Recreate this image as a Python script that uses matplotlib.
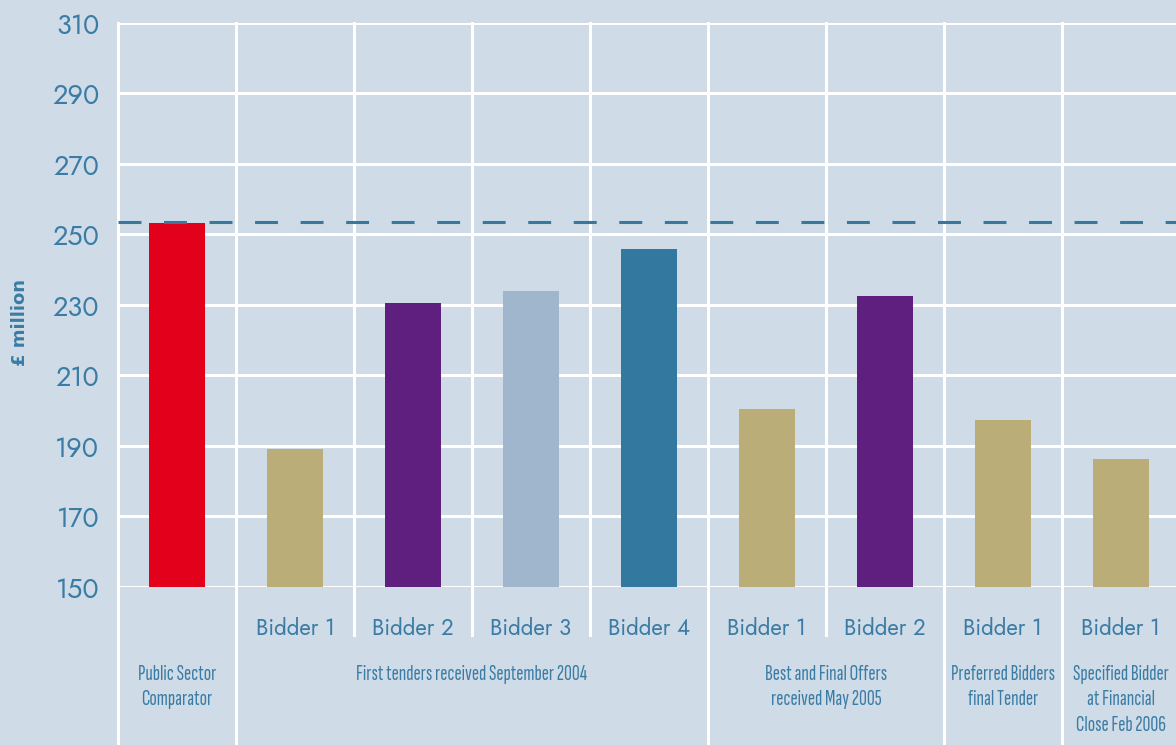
import numpy as np
import matplotlib.pyplot as plt

# data
bidders = ['', 'Bidder 1', 'Bidder 2', 'Bidder 3', 'Bidder 4',
           'Bidder 1', 'Bidder 2', 'Bidder 1', 'Bidder 1']
values = [253.3, 189.1, 230.6, 234.0, 245.9, 200.5, 232.6, 197.4, 186.3]
colors = ['#e2001a', '#bbad77', '#5f1f7e', '#a0b6cc', '#33789f',
          '#bbad77', '#5f1f7e', '#bbad77', '#bbad77']
psc_line = 253.5
groups = ['Public Sector\nComparator',
          'First tenders received September 2004',
          'Best and Final Offers\nreceived May 2005',
          'Preferred Bidders\nfinal Tender',
          'Specified Bidder\nat Financial\nClose Feb 2006']
group_spans = [(0, 0), (1, 4), (5, 6), (7, 7), (8, 8)]
yticks = [150, 170, 190, 210, 230, 250, 270, 290, 310]

bg = '#cfdbe6'
txt = '#3a7ca5'
main_font = ['Jost', 'DejaVu Sans']
cond_font = ['Sofia Sans Extra Condensed', 'Fira Sans Extra Condensed', 'DejaVu Sans']

W, H = 1176, 745
fig = plt.figure(figsize=(W / 100, H / 100), dpi=100, facecolor=bg)
ax = fig.add_axes([118 / W, (H - 587) / H, 1062 / W, 564 / H], facecolor=bg)

x = np.arange(len(values))
ax.bar(x, np.array(values) - 150, bottom=150, width=0.48, color=colors, zorder=3)

ax.set_xlim(-0.5, 8.5)
ax.set_ylim(150, 310)
for s in ax.spines.values():
    s.set_visible(False)
ax.set_xticks([])
ax.set_yticks(yticks)
ax.tick_params(axis='y', length=0, pad=13.5, labelsize=19.5, labelcolor=txt)
for lab in ax.get_yticklabels():
    lab.set_family(main_font)
for yt in yticks:
    ax.axhline(yt, color='white', lw=2.2, zorder=1)

# column separators, extended down into the label area
group_edges = [-0.5] + [e + 0.5 for _, e in group_spans]
for b in np.arange(-0.5, 8.5, 1.0):
    y0 = -0.29 if b in group_edges else -0.085
    ax.plot([b, b], [y0, 1.0], color='white', lw=2.2, zorder=1,
            transform=ax.get_xaxis_transform(), clip_on=False)

ax.axhline(psc_line, color='#3878a0', lw=2.2, linestyle=(0, (7.5, 7.4)), zorder=4)

trans = ax.get_xaxis_transform()
for i, lab in enumerate(bidders):
    ax.text(i, -48 / 564, lab, transform=trans, ha='center', va='baseline',
            fontsize=16, color=txt, family=main_font, clip_on=False)
for (a, b), g in zip(group_spans, groups):
    ax.text((a + b) / 2, -78 / 564, g, transform=trans, ha='center', va='top',
            fontsize=15.5, color=txt, family=cond_font,
            linespacing=1.42, clip_on=False)

fig.text(20 / W, 1 - 322 / H, '£ million', rotation=90, ha='center', va='center',
         fontsize=13, fontweight='bold', color=txt, family='DejaVu Sans')

fig.savefig('out.png', dpi=100, facecolor=bg)
